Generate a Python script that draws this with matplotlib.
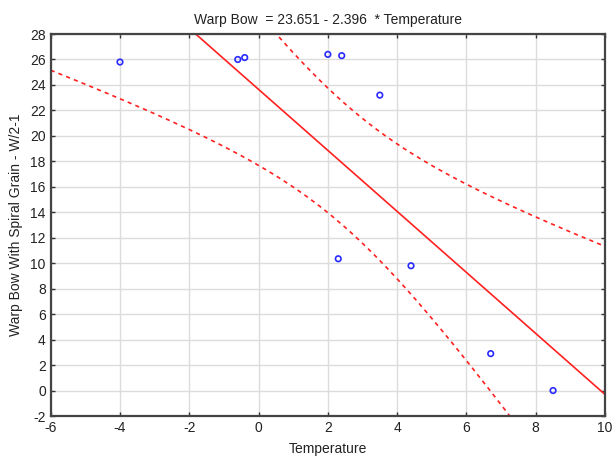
import numpy as np
import matplotlib
matplotlib.use("Agg")
import matplotlib.pyplot as plt

plt.rcParams['font.family'] = ['Liberation Sans', 'DejaVu Sans']
plt.rcParams['axes.unicode_minus'] = False

temperature = [-4.0, -0.6, -0.4, 2.0, 2.4, 3.5, 2.3, 4.4, 6.7, 8.5]
warp_bow = [25.8, 26.0, 26.15, 26.4, 26.3, 23.2, 10.35, 9.8, 2.9, 0.0]
intercept = 23.651
slope = -2.396
t_crit = 2.306  # t(0.975, df=8)

x = np.array(temperature)
y = np.array(warp_bow)
n = len(x)
xm = x.mean()
sxx = np.sum((x - xm) ** 2)
resid = y - (intercept + slope * x)
s = np.sqrt(np.sum(resid ** 2) / (n - 2))

xs = np.linspace(-6, 10, 400)
fit = intercept + slope * xs
half = t_crit * s * np.sqrt(1.0 / n + (xs - xm) ** 2 / sxx)

fig = plt.figure(figsize=(6.13, 4.57), dpi=100)
ax = fig.add_axes([0.0827, 0.0897, 0.9043, 0.8359])

ax.grid(True, color='#dcdcdc', linewidth=1.0, zorder=0)
ax.set_axisbelow(True)
ax.plot(xs, fit, color='#ff2020', linewidth=1.2, zorder=2)
ax.plot(xs, fit - half, color='#ff2020', linewidth=1.2, linestyle=(0, (2.5, 2.5)), zorder=2)
ax.plot(xs, fit + half, color='#ff2020', linewidth=1.2, linestyle=(0, (2.5, 2.5)), zorder=2)
ax.scatter(x, y, s=16, facecolors='none', edgecolors='#2a2aff', linewidths=1.2, zorder=3)

ax.set_xlim(-6, 10)
ax.set_ylim(-2, 28)
ax.set_xticks(np.arange(-6, 11, 2))
ax.set_yticks(np.arange(-2, 29, 2))
ax.tick_params(direction='in', length=3, width=1, colors='#333333', labelcolor='#222222',
               labelsize=10, top=True, right=True)
for sp in ax.spines.values():
    sp.set_color('#444444')
    sp.set_linewidth(1.6)

ax.set_title('Warp Bow  = 23.651 - 2.396  * Temperature', fontsize=10, color='#222222', pad=7)
ax.set_xlabel('Temperature', fontsize=10, color='#222222', labelpad=5)
ax.set_ylabel('Warp Bow With Spiral Grain - W/2-1', fontsize=10, color='#222222', labelpad=5)

fig.savefig('out.png', dpi=100)
